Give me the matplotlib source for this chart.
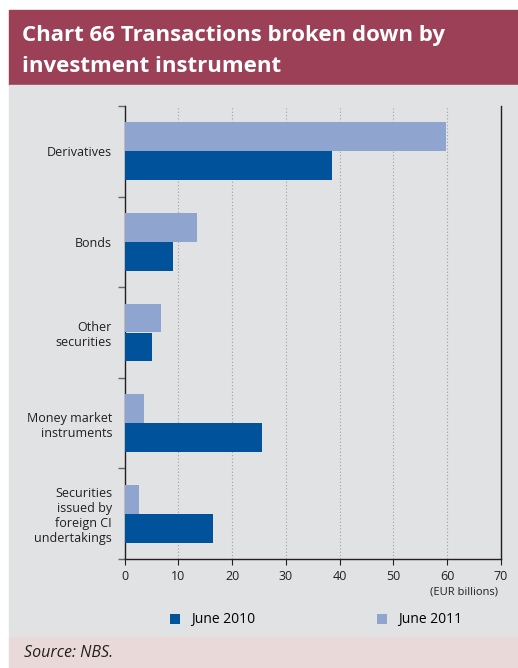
import numpy as np
import matplotlib.pyplot as plt
from matplotlib.patches import Rectangle

categories = ['Derivatives', 'Bonds', 'Other\nsecurities', 'Money market\ninstruments',
              'Securities\nissued by\nforeign CI\nundertakings']
june_2010 = [38.5, 9.0, 5.1, 25.6, 16.4]
june_2011 = [59.8, 13.5, 6.8, 3.6, 2.7]
x_ticks = [0, 10, 20, 30, 40, 50, 60, 70]

dark_blue = '#00529b'
light_blue = '#8fa4cf'
panel_grey = '#e1e2e4'
title_red = '#9b4057'
source_pink = '#e9dad9'

plt.rcParams['font.family'] = ['Open Sans', 'DejaVu Sans']

W, H = 518, 668
fig = plt.figure(figsize=(W / 100, H / 100), dpi=100)
fig.patch.set_facecolor('white')

# background bands (figure pixel coords converted to fractions)
def band(y0, y1, color):
    fig.patches.append(Rectangle((9 / W, 1 - y1 / H), 1 - 9 / W, (y1 - y0) / H,
                                 transform=fig.transFigure, color=color, zorder=-5))

band(10, 85, title_red)
band(85, 637, panel_grey)
band(637, 668, source_pink)

fig.text(22 / W, 1 - 36 / H, 'Chart 66 Transactions broken down by', color='white',
         fontsize=16, fontweight='bold', va='center', ha='left')
fig.text(22 / W, 1 - 66 / H, 'investment instrument', color='white',
         fontsize=16, fontweight='bold', va='center', ha='left')
fig.text(24 / W, 1 - 653 / H, 'Source: NBS.', fontsize=11.5, style='italic',
         va='center', ha='left', color='#231f20')

ax = fig.add_axes([124.5 / W, 1 - 559 / H, (501 - 124.5) / W, (559 - 106) / H])
ax.set_facecolor('none')

n = len(categories)
pos = np.arange(n)
h = 0.32
ax.barh(pos - h / 2, june_2011, height=h, color=light_blue, label='June 2011', zorder=3)
ax.barh(pos + h / 2, june_2010, height=h, color=dark_blue, label='June 2010', zorder=3)

ax.set_ylim(n - 0.5, -0.5)
ax.set_xlim(0, 70)
ax.set_xticks(x_ticks)
ax.set_xticklabels([str(t) for t in x_ticks], fontsize=9, color='#231f20')
ax.set_yticks(pos)
ax.set_yticklabels(categories, fontsize=9, color='#231f20', ha='right', multialignment='right')
ax.tick_params(axis='y', length=0, pad=9)
ax.set_yticks(np.arange(-0.5, n, 1), minor=True)
ax.tick_params(axis='y', which='minor', length=5, color='#666666', width=1)
ax.tick_params(axis='x', length=4, color='#231f20', pad=4)

for t in x_ticks[1:-1]:
    ax.axvline(t, color='#a0a0a0', linestyle=(0, (1, 2)), linewidth=0.8, zorder=1)

ax.spines['top'].set_visible(False)
for s in ['left', 'bottom', 'right']:
    ax.spines[s].set_color('#231f20')
    ax.spines[s].set_linewidth(1)

fig.text(498 / W, 1 - 592 / H, '(EUR billions)', fontsize=8, ha='right', va='center',
         color='#231f20')

handles, labels = ax.get_legend_handles_labels()
leg = fig.legend([handles[1], handles[0]], [labels[1], labels[0]], loc='center',
                 bbox_to_anchor=(316 / W, 1 - 620 / H), ncol=2, frameon=False,
                 fontsize=10, handlelength=0.72, handleheight=0.72, columnspacing=8.8,
                 handletextpad=0.8)

fig.savefig('out.png', dpi=100)
